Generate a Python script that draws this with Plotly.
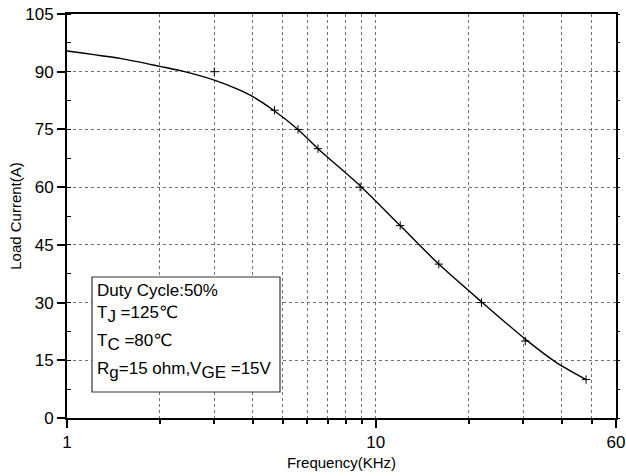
import plotly.graph_objects as go

# Measured points (markers)
freq_pts = [3.0, 4.7, 5.6, 6.5, 8.9, 12.0, 16.0, 22.0, 30.5, 48.0]
current_pts = [90, 80, 75, 70, 60, 50, 40, 30, 20, 10]

# Fitted curve samples
freq_fit = [1.0, 1.5, 2.0, 2.35, 3.0, 3.63, 4.0, 4.7, 5.6, 6.5, 9.0, 12.0, 16.0, 22.0, 30.5, 38.5, 48.0]
current_fit = [95.4, 93.4, 91.4, 90.2, 87.8, 85.2, 83.5, 79.8, 75.0, 70.0, 60.0, 50.0, 40.0, 30.2, 20.5, 14.4, 10.0]

x_major = [1, 10, 60]
x_minor = [2, 3, 4, 5, 6, 7, 8, 9, 20, 30, 40, 50]
y_ticks = [0, 15, 30, 45, 60, 75, 90, 105]

SUB = '<sub><span style="font-size:17px">{}</span></sub>'
box_lines = [
    "Duty Cycle:50%",
    "T" + SUB.format("J") + " =125℃",
    "T" + SUB.format("C") + " =80℃",
    "R" + SUB.format("g") + "=15 ohm,V" + SUB.format("GE") + " =15V",
]

FONT = "Liberation Sans, Arial, DejaVu Sans, sans-serif"

fig = go.Figure()
fig.add_trace(go.Scatter(x=freq_fit, y=current_fit, mode="lines",
                         line=dict(color="black", width=1.4, shape="spline", smoothing=0.8),
                         hoverinfo="skip", showlegend=False))
fig.add_trace(go.Scatter(x=freq_pts, y=current_pts, mode="markers",
                         marker=dict(symbol="cross-thin", size=6, line=dict(color="black", width=1)),
                         showlegend=False))

grid = dict(showgrid=True, gridcolor="#707070", gridwidth=1, griddash="dot")

fig.update_layout(
    width=626, height=476,
    margin=dict(l=67, r=10, t=14, b=58),
    paper_bgcolor="white", plot_bgcolor="white",
    font=dict(family=FONT, color="black", size=16),
    xaxis=dict(
        type="log", range=[0, 1.77815], automargin=False,
        tickvals=x_major, ticktext=[str(v) for v in x_major],
        ticks="outside", ticklen=8, tickwidth=1.5, tickcolor="black",
        showline=True, linecolor="black", linewidth=2, mirror=True,
        zeroline=False,
        title=dict(text="Frequency(KHz)", font=dict(size=15), standoff=6),
        tickfont=dict(size=17),
        minor=dict(tickvals=x_minor, ticks="outside", ticklen=4, tickwidth=1.5,
                   tickcolor="black", showgrid=True, gridcolor="#707070", griddash="dot"),
        **grid,
    ),
    yaxis=dict(
        range=[0, 105], tickvals=y_ticks, automargin=False,
        ticks="outside", ticklen=8, tickwidth=1.5, tickcolor="black",
        showline=True, linecolor="black", linewidth=2, mirror=True,
        zeroline=False,
        title=dict(text="Load Current(A)", font=dict(size=15), standoff=0),
        tickfont=dict(size=17),
        minor=dict(dtick=7.5, ticks="inside", ticklen=4, tickwidth=1, tickcolor="black", showgrid=False),
        **grid,
    ),
    yaxis2=dict(
        range=[0, 105], overlaying="y", side="right", tickvals=y_ticks, automargin=False,
        ticks="outside", ticklen=3, tickwidth=1, tickcolor="black",
        showticklabels=False, showgrid=False, zeroline=False, showline=False,
        minor=dict(dtick=7.5, ticks="outside", ticklen=3, tickwidth=1, tickcolor="black"),
    ),
)

# Invisible trace so the right axis is drawn
fig.add_trace(go.Scatter(x=[freq_fit[0]], y=[current_fit[0]], yaxis="y2", mode="markers",
                         marker=dict(opacity=0), hoverinfo="skip", showlegend=False))

# Parameter box
fig.add_shape(type="rect", xref="paper", yref="paper",
              x0=0.0455, x1=0.3880, y0=0.0644, y1=0.3490,
              line=dict(color="#333333", width=1.2), fillcolor="white", layer="above")
line_centers = [0.3155, 0.2560, 0.1880, 0.1180]
for txt, yc in zip(box_lines, line_centers):
    fig.add_annotation(text=txt, xref="paper", yref="paper", x=0.051, y=yc,
                       xanchor="left", yanchor="middle", showarrow=False,
                       font=dict(size=17, family=FONT, color="black"))

fig.write_html("out.html", config={"displayModeBar": False},
               post_script="document.body.style.margin='0';")
